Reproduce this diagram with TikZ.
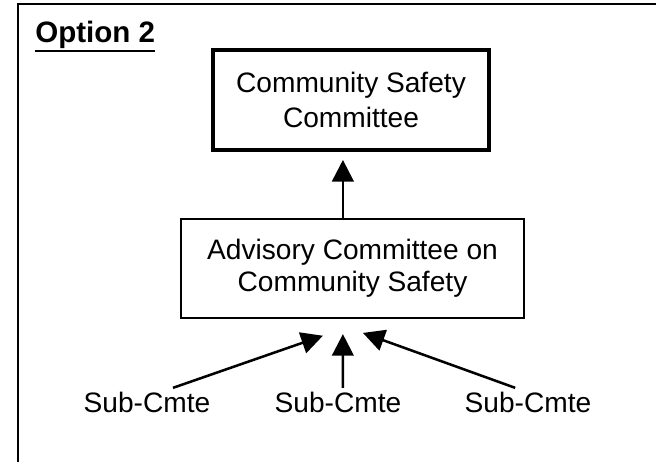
\documentclass[tikz,border=0pt]{standalone}
\usepackage{fontspec}
\setmainfont{Liberation Sans}
\usetikzlibrary{arrows.meta}

\begin{document}
\begin{tikzpicture}[
        fleche/.style={line width=1.8pt,-{Triangle[width=0.54cm,length=0.54cm]}},
        etiq/.style={anchor=base,inner sep=0.1cm,font=\fontsize{20pt}{24pt}\selectfont}]
                    \useasboundingbox(0,0)rectangle(16.4,11.55);
                    \draw[line width=1.5pt](0.44,0)--(0.44,11.44)--(16.4,11.44);
                    \node[anchor=base west,inner sep=0pt,font=\fontsize{21pt}{25pt}\selectfont\bfseries](opt)at(0.875,10.475){Option 2};
                    \draw[line width=1.4pt]([yshift=-0.03cm]opt.south west)--([yshift=-0.03cm]opt.south east);
                    \node[draw,line width=2.8pt,minimum width=6.9cm,minimum height=2.5cm,align=center,
                        font=\fontsize{20pt}{25pt}\selectfont](csc)at(8.775,9.05){Community Safety\\Committee};
                    \node[draw,line width=1.3pt,minimum width=8.575cm,minimum height=2.475cm,align=center,
                        font=\fontsize{20pt}{23pt}\selectfont](acs)at(8.8125,4.8375){Advisory Committee on\\Community Safety};
                    \node[etiq](s1)at(3.675,1.2375){Sub-Cmte};
                    \node[etiq](s2)at(8.45,1.2375){Sub-Cmte};
                    \node[etiq](s3)at(13.2,1.2375){Sub-Cmte};
                    % fleches
                    \coordinate(a)at([xshift=-0.24cm]acs.north);
                    \draw[fleche,shorten >=0.2cm](a)--(a|-csc.south);
                    \draw[fleche]([xshift=0.65cm]s1.north)--([xshift=-0.74cm,yshift=-0.42cm]acs.south);
                    \draw[fleche]([xshift=0.12cm]s2.north)--([xshift=-0.24cm,yshift=-0.38cm]acs.south);
                    \draw[fleche]([xshift=-0.32cm]s3.north)--([xshift=0.26cm,yshift=-0.35cm]acs.south);
                \end{tikzpicture}
\end{document}
